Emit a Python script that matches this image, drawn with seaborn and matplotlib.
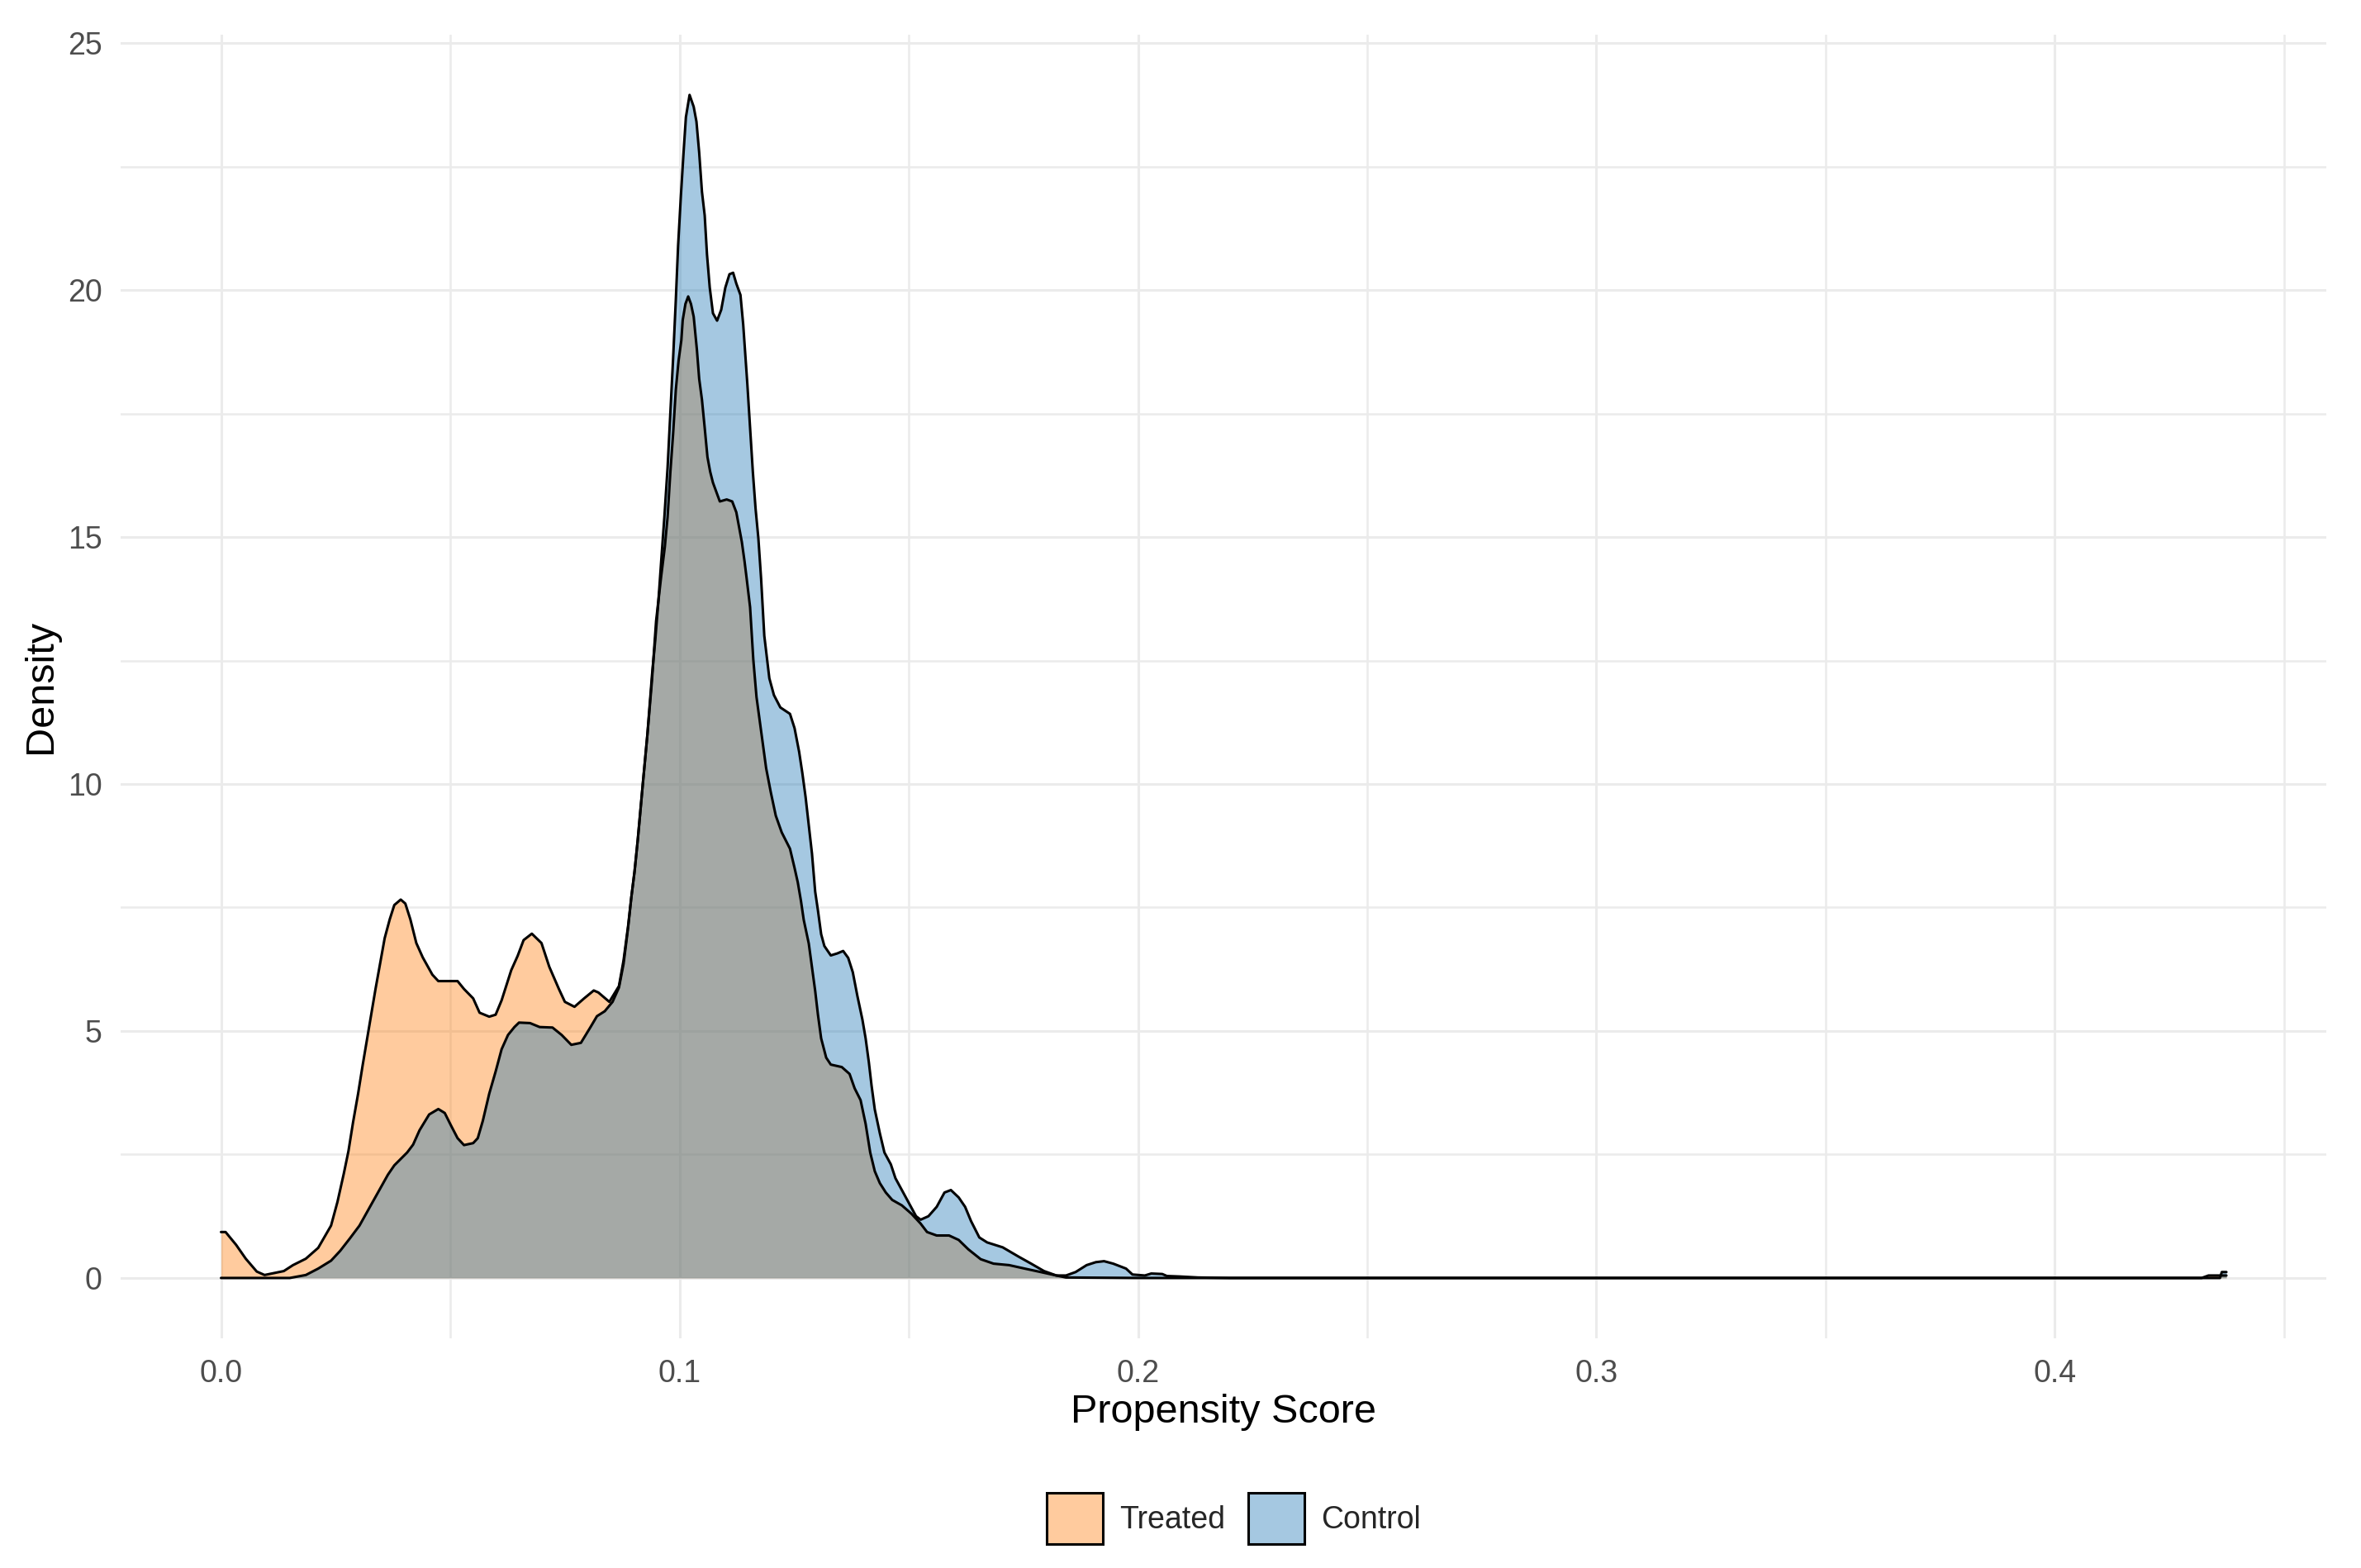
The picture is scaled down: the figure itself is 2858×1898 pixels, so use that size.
import seaborn as sns
import pandas as pd
import matplotlib
matplotlib.use("Agg")
import matplotlib.pyplot as plt
from matplotlib.patches import Patch
from matplotlib.ticker import MultipleLocator

# Density curves (x = propensity score, y = density)
treated_x = [
  0.0000, 0.0010, 0.0033, 0.0054, 0.0078, 0.0095, 0.0116, 0.0137, 0.0157, 0.0185,
  0.0212, 0.0240, 0.0254, 0.0268, 0.0278, 0.0288, 0.0299, 0.0309, 0.0323, 0.0337,
  0.0347, 0.0357, 0.0368, 0.0378, 0.0392, 0.0402, 0.0413, 0.0426, 0.0440, 0.0461,
  0.0474, 0.0516, 0.0530, 0.0550, 0.0564, 0.0585, 0.0599, 0.0612, 0.0633, 0.0647,
  0.0660, 0.0678, 0.0699, 0.0716, 0.0737, 0.0750, 0.0771, 0.0792, 0.0813, 0.0823,
  0.0847, 0.0868, 0.0878, 0.0888, 0.0895, 0.0902, 0.0909, 0.0920, 0.0930, 0.0940,
  0.0949, 0.0960, 0.0968, 0.0974, 0.0980, 0.0986, 0.0992, 0.0998, 0.1004, 0.1007,
  0.1013, 0.1019, 0.1025, 0.1031, 0.1038, 0.1043, 0.1049, 0.1055, 0.1061, 0.1067,
  0.1073, 0.1079, 0.1088, 0.1103, 0.1115, 0.1124, 0.1130, 0.1136, 0.1142, 0.1146,
  0.1154, 0.1161, 0.1168, 0.1175, 0.1182, 0.1189, 0.1199, 0.1210, 0.1223, 0.1241,
  0.1251, 0.1258, 0.1265, 0.1271, 0.1282, 0.1289, 0.1296, 0.1302, 0.1309, 0.1320,
  0.1330, 0.1354, 0.1371, 0.1382, 0.1395, 0.1406, 0.1416, 0.1426, 0.1437, 0.1450,
  0.1464, 0.1485, 0.1506, 0.1526, 0.1540, 0.1561, 0.1588, 0.1609, 0.1630, 0.1657,
  0.1685, 0.1719, 0.1753, 0.1788, 0.1822, 0.1843, 0.2000, 0.4320, 0.4335, 0.4374,
]
treated_y = [
  0.93, 0.93, 0.67, 0.39, 0.13, 0.06, 0.10, 0.14, 0.26, 0.39,
  0.61, 1.06, 1.54, 2.12, 2.57, 3.15, 3.73, 4.31, 5.08, 5.85,
  6.36, 6.88, 7.26, 7.55, 7.66, 7.58, 7.26, 6.78, 6.49, 6.14,
  6.01, 6.01, 5.85, 5.66, 5.37, 5.29, 5.33, 5.62, 6.23, 6.52,
  6.84, 6.97, 6.78, 6.30, 5.85, 5.59, 5.49, 5.66, 5.82, 5.78,
  5.59, 5.91, 6.43, 7.13, 7.71, 8.23, 8.87, 10.0, 11.0, 12.1,
  13.3, 14.2, 14.8, 15.4, 16.3, 17.08, 17.98, 18.57, 18.98, 19.39,
  19.72, 19.87, 19.72, 19.46, 18.79, 18.20, 17.78, 17.21, 16.62, 16.32,
  16.10, 15.95, 15.72, 15.76, 15.72, 15.50, 15.20, 14.90, 14.50, 14.20,
  13.58, 12.52, 11.76, 11.28, 10.80, 10.32, 9.84, 9.36, 9.02, 8.69,
  8.30, 8.01, 7.63, 7.25, 6.77, 6.29, 5.81, 5.33, 4.85, 4.46,
  4.32, 4.27, 4.13, 3.84, 3.60, 3.12, 2.54, 2.16, 1.92, 1.73,
  1.58, 1.47, 1.30, 1.10, 0.93, 0.86, 0.86, 0.77, 0.58, 0.38,
  0.29, 0.26, 0.19, 0.12, 0.05, 0.01, 0.00, 0.00, 0.05, 0.05,
]

control_x = [
  0.0000, 0.0150, 0.0185, 0.0212, 0.0240, 0.0260, 0.0281, 0.0302, 0.0323, 0.0343,
  0.0364, 0.0378, 0.0406, 0.0419, 0.0433, 0.0454, 0.0474, 0.0488, 0.0502, 0.0516,
  0.0530, 0.0550, 0.0560, 0.0571, 0.0585, 0.0599, 0.0612, 0.0626, 0.0640, 0.0650,
  0.0674, 0.0695, 0.0723, 0.0743, 0.0764, 0.0785, 0.0806, 0.0820, 0.0837, 0.0854,
  0.0868, 0.0878, 0.0888, 0.0895, 0.0902, 0.0909, 0.0920, 0.0930, 0.0940, 0.0947,
  0.0954, 0.0960, 0.0967, 0.0974, 0.0980, 0.0986, 0.0992, 0.0997, 0.1003, 0.1009,
  0.1014, 0.1022, 0.1031, 0.1037, 0.1043, 0.1049, 0.1055, 0.1060, 0.1066, 0.1073,
  0.1082, 0.1091, 0.1100, 0.1109, 0.1117, 0.1124, 0.1133, 0.1139, 0.1144, 0.1148,
  0.1154, 0.1160, 0.1166, 0.1172, 0.1178, 0.1185, 0.1196, 0.1206, 0.1220, 0.1241,
  0.1251, 0.1261, 0.1268, 0.1275, 0.1282, 0.1289, 0.1296, 0.1302, 0.1309, 0.1316,
  0.1330, 0.1344, 0.1357, 0.1368, 0.1378, 0.1388, 0.1399, 0.1406, 0.1413, 0.1419,
  0.1426, 0.1437, 0.1447, 0.1461, 0.1471, 0.1485, 0.1502, 0.1516, 0.1526, 0.1543,
  0.1561, 0.1578, 0.1592, 0.1609, 0.1623, 0.1636, 0.1654, 0.1671, 0.1705, 0.1740,
  0.1767, 0.1795, 0.1822, 0.1843, 0.1864, 0.1888, 0.1908, 0.1926, 0.1946, 0.1974,
  0.1988, 0.2015, 0.2029, 0.2053, 0.2063, 0.2091, 0.2131, 0.2200, 0.4360, 0.4364,
  0.4374,
]
control_y = [
  0.00, 0.00, 0.06, 0.19, 0.35, 0.55, 0.80, 1.06, 1.41, 1.74,
  2.09, 2.28, 2.54, 2.70, 2.99, 3.31, 3.42, 3.34, 3.08, 2.83,
  2.69, 2.73, 2.83, 3.18, 3.73, 4.18, 4.63, 4.92, 5.08, 5.17,
  5.16, 5.08, 5.07, 4.92, 4.72, 4.76, 5.08, 5.30, 5.40, 5.59,
  5.88, 6.36, 7.10, 7.71, 8.23, 8.87, 10.0, 11.0, 12.2, 12.9,
  13.7, 14.5, 15.4, 16.4, 17.5, 18.6, 19.8, 20.9, 21.9, 22.8,
  23.5, 23.95, 23.71, 23.41, 22.78, 21.99, 21.51, 20.72, 20.05, 19.53,
  19.38, 19.60, 20.05, 20.32, 20.35, 20.13, 19.90, 19.30, 18.63, 18.10,
  17.21, 16.32, 15.57, 14.98, 14.16, 13.00, 12.14, 11.80, 11.55, 11.42,
  11.13, 10.65, 10.22, 9.74, 9.17, 8.59, 7.82, 7.44, 6.96, 6.72,
  6.53, 6.57, 6.62, 6.48, 6.19, 5.71, 5.23, 4.85, 4.37, 3.89,
  3.41, 2.93, 2.54, 2.30, 2.02, 1.78, 1.49, 1.25, 1.18, 1.25,
  1.44, 1.73, 1.78, 1.63, 1.44, 1.15, 0.82, 0.72, 0.62, 0.43,
  0.29, 0.14, 0.05, 0.05, 0.12, 0.26, 0.32, 0.34, 0.29, 0.19,
  0.07, 0.05, 0.09, 0.08, 0.04, 0.03, 0.01, 0.00, 0.00, 0.12,
  0.12,
]

groups = ["Treated", "Control"]
group_colors = {"Treated": "#ff7f0e", "Control": "#1f77b4"}
x_ticks = [0.0, 0.1, 0.2, 0.3, 0.4]
x_tick_labels = ["0.0", "0.1", "0.2", "0.3", "0.4"]
y_ticks = [0, 5, 10, 15, 20, 25]

curves = pd.concat([
  pd.DataFrame({"score": treated_x, "density": treated_y, "group": "Treated"}),
  pd.DataFrame({"score": control_x, "density": control_y, "group": "Control"}),
])

sns.set_theme(style="whitegrid")
plt.rcParams["font.family"] = ["Liberation Sans", "DejaVu Sans"]

fig = plt.figure(figsize=(14.29, 9.49), dpi=200)
ax = fig.add_axes([0.0511, 0.1465, 0.9342, 0.8314])

# treated first, control on top (the overlap turns grey)
for g in groups:
  d = curves[curves["group"] == g]
  ax.fill_between(d["score"], d["density"], 0, color=group_colors[g], alpha=0.4, lw=0)
  sns.lineplot(data=d, x="score", y="density", color="black", lw=1.1,
               sort=False, estimator=None, ax=ax, legend=False)

ax.set_xlim(-0.02189, 0.45919)
ax.set_ylim(-1.221, 25.17)
ax.set_xticks(x_ticks)
ax.set_xticklabels(x_tick_labels)
ax.set_yticks(y_ticks)
ax.xaxis.set_minor_locator(MultipleLocator(0.05))
ax.yaxis.set_minor_locator(MultipleLocator(2.5))
ax.grid(which="major", color="#ebebeb", lw=1.1)
ax.grid(which="minor", color="#ebebeb", lw=0.9)
ax.set_axisbelow(True)
for s in ax.spines.values():
  s.set_visible(False)
ax.tick_params(axis="both", which="both", length=0, labelsize=13.5, labelcolor="#4d4d4d")
ax.tick_params(axis="y", pad=8)
ax.tick_params(axis="x", pad=9)

ax.set_xlabel("Propensity Score", fontsize=17.5, color="black", va="center")
ax.set_ylabel("Density", fontsize=17.5, color="black", va="center")
ax.xaxis.set_label_coords(0.5, -0.057)
ax.yaxis.set_label_coords(-0.0363, 0.5)

# legend boxes: translucent fill, opaque black edge
handles = [
  Patch(facecolor=matplotlib.colors.to_rgba(group_colors[g], 0.4), edgecolor="black", lw=1.1)
  for g in groups
]
ax.legend(handles, groups, loc="center", bbox_to_anchor=(0.5226, 0.0316),
          bbox_transform=fig.transFigure, ncol=2, frameon=False, fontsize=13.5,
          handlelength=1.8, handleheight=2.15, handletextpad=0.55, columnspacing=0.75)

fig.savefig("out.png", dpi=200, facecolor="white")
